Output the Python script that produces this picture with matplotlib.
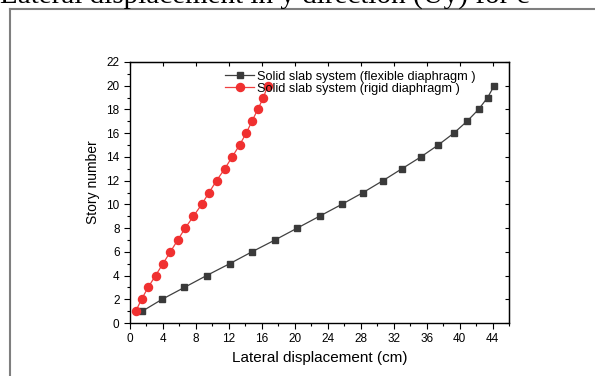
import matplotlib.pyplot as plt
from matplotlib.ticker import MultipleLocator
from matplotlib.lines import Line2D

# Данные: этажи и перемещения (см)
stories = list(range(1, 21))
flexible = [1.5, 3.9, 6.6, 9.3, 12.1, 14.8, 17.6, 20.3, 23.0, 25.7,
            28.3, 30.7, 33.0, 35.3, 37.4, 39.3, 40.9, 42.3, 43.4, 44.2]
rigid = [0.7, 1.4, 2.2, 3.1, 4.0, 4.9, 5.8, 6.7, 7.7, 8.7,
         9.6, 10.5, 11.5, 12.4, 13.3, 14.1, 14.8, 15.5, 16.2, 16.7]
labels = ['Solid slab system (flexible diaphragm )',
          'Solid slab system (rigid diaphragm )']
page_title = 'Lateral displacement in y direction (Uy) for c'

plt.rcParams['font.family'] = ['Liberation Sans', 'DejaVu Sans']

fig = plt.figure(figsize=(5.95, 3.76), dpi=100)
ax = fig.add_axes([130 / 595, 1 - 323 / 376, 379 / 595, 261 / 376])

ax.plot(flexible, stories, color='#404040', lw=0.9, marker='s', ms=5,
        mfc='#3a3a3a', mec='#3a3a3a', label=labels[0])
ax.plot(rigid, stories, color='#f04040', lw=0.9, marker='o', ms=5.8,
        mfc='#f03030', mec='#f03030', label=labels[1])

ax.set_xlim(0, 46)
ax.set_ylim(0, 22)
ax.xaxis.set_major_locator(MultipleLocator(4))
ax.xaxis.set_minor_locator(MultipleLocator(2))
ax.yaxis.set_major_locator(MultipleLocator(2))
ax.yaxis.set_minor_locator(MultipleLocator(1))
ax.tick_params(which='both', labelsize=8.5, width=0.8, colors='black')
ax.tick_params(which='major', length=4)
ax.tick_params(which='minor', length=2.5)
for s in ax.spines.values():
    s.set_linewidth(1)

# верхние и правые засечки внутрь
top = ax.secondary_xaxis('top')
top.xaxis.set_major_locator(MultipleLocator(4))
top.tick_params(direction='in', length=3, labeltop=False)
right = ax.secondary_yaxis('right')
right.yaxis.set_major_locator(MultipleLocator(2))
right.tick_params(direction='in', length=3, labelright=False)

ax.set_xlabel('Lateral displacement (cm)', fontsize=11)
ax.xaxis.set_label_coords(0.5, -0.107)
ax.set_ylabel('Story number', fontsize=10)
ax.yaxis.set_label_coords(-0.079, 0.54)

ax.legend(loc='upper left', bbox_to_anchor=(0.225, 1.005), frameon=False,
          fontsize=9.2, handlelength=2.2, borderpad=0.3, labelspacing=0.0,
          handletextpad=0.3)

# рамка страницы и обрезанный заголовок
fig.add_artist(Line2D([10 / 595, 10 / 595], [0, 1 - 9 / 376], color='#7f7f7f', lw=1.5))
fig.add_artist(Line2D([10 / 595, 1], [1 - 9 / 376, 1 - 9 / 376], color='#7f7f7f', lw=1.5))
fig.text(0.0, 1 - 4 / 376, page_title, family='Liberation Serif', fontsize=21,
         va='baseline', ha='left')

fig.savefig('out.png', dpi=100)
